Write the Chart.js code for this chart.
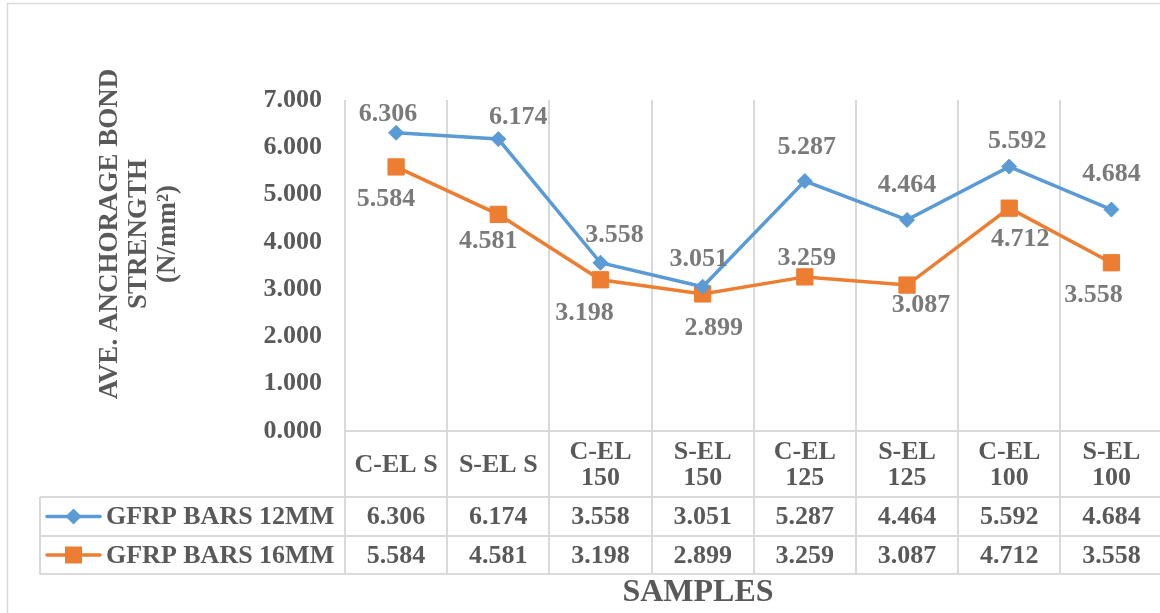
<!DOCTYPE html>
<html>
<head>
<meta charset="utf-8">
<script src="https://cdn.jsdelivr.net/npm/chart.js@4/dist/chart.umd.min.js"></script>
<style>
html, body { margin: 0; padding: 0; background: #fff; overflow: hidden; }
#wrap { position: relative; width: 1175px; height: 613px; }
</style>
</head>
<body>
<div id="wrap"><canvas id="c"></canvas></div>
<script>
// ---- data ----
const categories = ['C-EL S', 'S-EL S', 'C-EL 150', 'S-EL 150', 'C-EL 125', 'S-EL 125', 'C-EL 100', 'S-EL 100'];
const bars12 = [6.306, 6.174, 3.558, 3.051, 5.287, 4.464, 5.592, 4.684];
const bars16 = [5.584, 4.581, 3.198, 2.899, 3.259, 3.087, 4.712, 3.558];
const seriesNames = ['GFRP BARS 12MM', 'GFRP BARS 16MM'];
const yTicks = [0, 1, 2, 3, 4, 5, 6, 7];
const yTitle = ['AVE. ANCHORAGE BOND', 'STRENGTH', '(N/mm²)'];
const xTitle = 'SAMPLES';

// ---- layout / styling ----
const FONT = "'Liberation Serif', 'Times New Roman', serif";
const TEXT = '#595959';
const LABEL = '#7A7A7A';
const GRID = '#D9D9D9';
const BLUE = '#5B9BD5';
const ORANGE = '#ED7D31';
// value label nudges (dx, dy) from each marker
const labelShift12 = [[-8, -19], [20, -22], [14, -27], [-4, -27], [2, -34], [0, -35], [8, -25], [0, -35]];
const labelShift16 = [[-10, 32], [-10, 27], [-16, 34], [11, 34], [2, -19], [14, 20], [11, 31], [-18, 33]];
const catRowH = 66;
const seriesRowH = [39, 38];
const keyLeft = 40;

function font(size) { return 'bold ' + size + 'px ' + FONT; }

function wrapText(ctx, text, maxW) {
  const words = text.split(' ');
  const lines = [];
  let cur = '';
  for (const w of words) {
    const t = cur ? cur + ' ' + w : w;
    if (cur && ctx.measureText(t).width > maxW) { lines.push(cur); cur = w; }
    else cur = t;
  }
  if (cur) lines.push(cur);
  return lines;
}

function drawMarker(ctx, style, x, y, color) {
  ctx.fillStyle = color;
  ctx.beginPath();
  if (style === 'rectRot') {
    const r = 8;
    ctx.moveTo(x - r, y); ctx.lineTo(x, y - r); ctx.lineTo(x + r, y); ctx.lineTo(x, y + r);
  } else {
    const s = 8.5;
    ctx.rect(x - s, y - s, 2 * s, 2 * s);
  }
  ctx.closePath();
  ctx.fill();
}

const tablePlugin = {
  id: 'dataTable',
  beforeDraw(chart) {
    const { ctx, width, height } = chart;
    ctx.save();
    ctx.fillStyle = '#fff';
    ctx.fillRect(0, 0, width, height);
    ctx.strokeStyle = GRID;
    ctx.lineWidth = 1.5;
    ctx.strokeRect(7.5, 3.5, width + 10, height + 10);
    ctx.restore();
  },
  afterDatasetsDraw(chart) {
    const { ctx } = chart;
    const shifts = [labelShift12, labelShift16];
    ctx.save();
    ctx.font = font(26);
    ctx.fillStyle = LABEL;
    ctx.textAlign = 'center';
    ctx.textBaseline = 'middle';
    chart.data.datasets.forEach((ds, i) => {
      chart.getDatasetMeta(i).data.forEach((pt, j) => {
        const [dx, dy] = shifts[i][j];
        ctx.fillText(ds.data[j].toFixed(3), pt.x + dx, pt.y + dy);
      });
    });
    ctx.restore();
  },
  afterDraw(chart) {
    const { ctx, width, chartArea } = chart;
    const xs = chart.scales.x;
    const top = chartArea.bottom;
    const r1 = top + catRowH;
    const r2 = r1 + seriesRowH[0];
    const r3 = r2 + seriesRowH[1];
    ctx.save();

    // table rules
    ctx.strokeStyle = GRID;
    ctx.lineWidth = 2;
    ctx.beginPath();
    [r1, r2, r3].forEach(y => { ctx.moveTo(keyLeft, y); ctx.lineTo(width, y); });
    ctx.moveTo(keyLeft, r1); ctx.lineTo(keyLeft, r3);
    ctx.stroke();

    ctx.font = font(26);
    ctx.fillStyle = TEXT;
    ctx.textAlign = 'center';
    ctx.textBaseline = 'middle';

    // category row
    const colW = xs.getPixelForValue(1) - xs.getPixelForValue(0);
    categories.forEach((c, i) => {
      const cx = xs.getPixelForValue(i);
      const lines = wrapText(ctx, c, colW - 8);
      const lh = 26;
      const mid = (top + r1) / 2 + 1;
      lines.forEach((ln, k) => {
        ctx.fillText(ln, cx, mid + (k - (lines.length - 1) / 2) * lh);
      });
    });

    // series rows
    const rowMid = [(r1 + r2) / 2, (r2 + r3) / 2];
    chart.data.datasets.forEach((ds, i) => {
      ds.data.forEach((v, j) => {
        ctx.fillText(v.toFixed(3), xs.getPixelForValue(j), rowMid[i] + 1);
      });
    });

    // legend keys
    const keyStyles = ['rectRot', 'rect'];
    const keyColors = [BLUE, ORANGE];
    seriesNames.forEach((name, i) => {
      const y = rowMid[i];
      ctx.strokeStyle = keyColors[i];
      ctx.lineWidth = 3.5;
      ctx.lineCap = 'round';
      ctx.beginPath();
      ctx.moveTo(47, y); ctx.lineTo(100, y);
      ctx.stroke();
      drawMarker(ctx, keyStyles[i], 73.5, y, keyColors[i]);
      ctx.fillStyle = TEXT;
      ctx.textAlign = 'left';
      ctx.fillText(name, 106, y + 1);
    });

    // axis titles
    ctx.fillStyle = TEXT;
    ctx.textAlign = 'center';
    ctx.font = font(32);
    ctx.fillText(xTitle, 698, 593);

    ctx.font = font(27);
    const titleX = [110, 139, 168];
    yTitle.forEach((t, k) => {
      ctx.save();
      ctx.translate(titleX[k], 234);
      ctx.rotate(-Math.PI / 2);
      ctx.fillText(t, 0, 0);
      ctx.restore();
    });
    ctx.restore();
  }
};

new Chart(document.getElementById('c'), {
  type: 'line',
  data: {
    labels: categories,
    datasets: [
      {
        label: seriesNames[0],
        data: bars12,
        borderColor: BLUE,
        backgroundColor: BLUE,
        borderWidth: 3.5,
        pointStyle: 'rectRot',
        pointRadius: 7.5,
        pointBorderWidth: 1,
        tension: 0
      },
      {
        label: seriesNames[1],
        data: bars16,
        borderColor: ORANGE,
        backgroundColor: ORANGE,
        borderWidth: 3.5,
        pointStyle: 'rect',
        pointRadius: 11.5,
        pointBorderWidth: 1,
        tension: 0
      }
    ]
  },
  options: {
    responsive: true,
    maintainAspectRatio: false,
    animation: false,
    layout: { padding: { top: 100, right: 6, bottom: 39, left: 0 } },
    plugins: { legend: { display: false }, tooltip: { enabled: false } },
    scales: {
      x: {
        type: 'category',
        offset: true,
        grid: { offset: true, color: GRID, lineWidth: 2, drawTicks: true, tickLength: 143 },
        border: { display: true, color: GRID, width: 2 },
        ticks: { display: false }
      },
      y: {
        min: yTicks[0],
        max: yTicks[yTicks.length - 1],
        afterBuildTicks: s => { s.ticks = yTicks.map(v => ({ value: v })); },
        afterFit: s => { s.width = 345; },
        grid: { display: false, drawTicks: false },
        border: { display: false },
        ticks: {
          padding: 23,
          color: TEXT,
          font: { family: FONT, size: 26, weight: 'bold' },
          callback: v => Number(v).toFixed(3)
        }
      }
    }
  },
  plugins: [tablePlugin]
});
</script>
</body>
</html>
